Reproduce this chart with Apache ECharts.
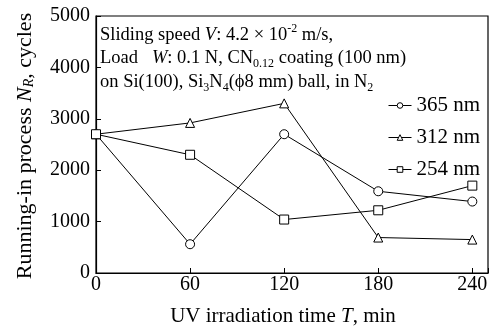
<!DOCTYPE html>
<html><head><meta charset="utf-8">
<script src="https://cdn.jsdelivr.net/npm/echarts@6/dist/echarts.min.js"></script>
<style>html,body{margin:0;padding:0;background:#fff}#c{width:491px;height:329px}</style>
</head><body><div id="c"></div>
<script>
const times = [0, 60, 120, 180, 240];
const nm365 = [2700, 560, 2700, 1590, 1390];
const nm312 = [2700, 2920, 3300, 690, 650];
const nm254 = [2700, 2300, 1040, 1220, 1700];
const seriesNames = ['365 nm', '312 nm', '254 nm'];
const seriesSymbols = ['circle', 'triangle', 'rect'];
const xTicks = [0, 60, 120, 180, 240];
const yTicks = [0, 1000, 2000, 3000, 4000, 5000];

const FF = '"Liberation Serif","Times New Roman",serif';
const chart = echarts.init(document.getElementById('c'));
const values = [nm365, nm312, nm254];

chart.setOption({
  animation: false,
  backgroundColor: '#fff',
  grid: {left: 96, right: 3, top: 16, bottom: 56, containLabel: false, outerBoundsMode: 'none',
    show: true, borderColor: '#000', borderWidth: 1.2, backgroundColor: 'transparent'},
  xAxis: {
    type: 'value', min: 0, max: 250, interval: 60,
    name: 'UV irradiation time {i|T}, min', nameLocation: 'middle', nameGap: 33,
    nameTextStyle: {fontFamily: FF, fontSize: 21, color: '#000', padding: [0, 18, 0, 0],
      rich: {i: {fontFamily: FF, fontSize: 21, fontStyle: 'italic', color: '#000'}}},
    axisLine: {show: true, lineStyle: {color: '#000', width: 1.2}},
    axisTick: {show: true, inside: true, length: 5, lineStyle: {color: '#000'}},
    axisLabel: {fontFamily: FF, fontSize: 20, color: '#000', margin: 2,
      formatter: v => xTicks.includes(v) ? String(v) : ''},
    splitLine: {show: false}
  },
  yAxis: {
    type: 'value', min: 0, max: 5000, interval: 1000,
    name: 'Running-in process {i|N}{s|R}, cycles', nameLocation: 'middle', nameGap: 60,
    nameTextStyle: {fontFamily: FF, fontSize: 22, color: '#000', padding: [0, 3, 0, 0], rich: {
      i: {fontFamily: FF, fontSize: 22, fontStyle: 'italic', color: '#000'},
      s: {fontFamily: FF, fontSize: 14, fontStyle: 'italic', color: '#000', verticalAlign: 'bottom'}}},
    axisLine: {show: true, lineStyle: {color: '#000', width: 1.2}},
    axisTick: {show: true, inside: true, length: 5, lineStyle: {color: '#000'}},
    axisLabel: {fontFamily: FF, fontSize: 20, color: '#000', margin: 6,
      formatter: v => yTicks.includes(v) ? String(v) : ''},
    splitLine: {show: false}
  },
  legend: {
    orient: 'vertical', left: 383, top: 90, itemWidth: 23, itemHeight: 7, itemGap: 11,
    textStyle: {fontFamily: FF, fontSize: 21, color: '#000'},
    lineStyle: {width: 1, color: '#000'},
    itemStyle: {borderWidth: 1, borderColor: '#000', color: '#fff'},
    data: seriesNames
  },
  series: seriesNames.map((n, k) => ({
    name: n, type: 'line', data: times.map((t, i) => [t, values[k][i]]),
    symbol: seriesSymbols[k], symbolSize: 9,
    lineStyle: {color: '#000', width: 1},
    itemStyle: {color: '#fff', borderColor: '#000', borderWidth: 1},
    z: 3
  })),
  graphic: [{
    type: 'text', left: 100, top: 23,
    style: {
      text: 'Sliding speed {i|V}: 4.2 × 10{sup|-2} m/s,\nLoad   {i|W}: 0.1 N, CN{sub|0.12} coating (100 nm)\non Si(100), Si{sub|3}N{sub|4}(ϕ8 mm) ball, in N{sub|2}',
      fontFamily: FF, fontSize: 18.5, fill: '#000', lineHeight: 23.5,
      rich: {
        i: {fontFamily: FF, fontSize: 18.5, fontStyle: 'italic', fill: '#000', lineHeight: 23.5},
        sup: {fontFamily: FF, fontSize: 12, fill: '#000', verticalAlign: 'top', lineHeight: 17},
        sub: {fontFamily: FF, fontSize: 12, fill: '#000', verticalAlign: 'bottom', lineHeight: 17}
      }
    }
  }]
});
</script></body></html>
